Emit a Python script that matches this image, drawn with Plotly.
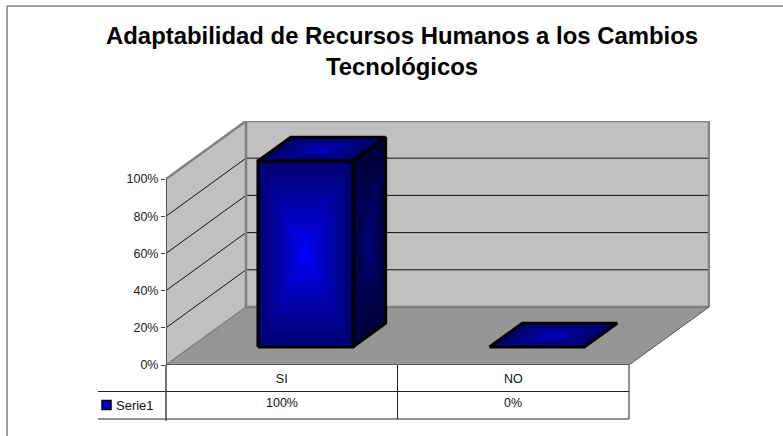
import plotly.graph_objects as go

# ---- data ----
categories = ["SI", "NO"]
series_name = "Serie1"
series_values = [100, 0]
tick_values = [0, 20, 40, 60, 80, 100]
tick_labels = ["0%", "20%", "40%", "60%", "80%", "100%"]
title_lines = ["Adaptabilidad de Recursos Humanos a los Cambios", "Tecnológicos"]

# ---- 3D projection set-up ----
W, H = 783, 436
PX_X, PX_Y = 231.5, 1.86      # pixels per category / per percent
LEFT, BASE, RIGHT, TOP = 166, 365, 710, 121   # plot-area edges in pixels
DEPTH_X = 80 / PX_X           # depth vector in data units
DEPTH_Y = 58 / PX_Y
BAR_L, BAR_R = 0.29, 0.70     # bar span within a category
BAR_F, BAR_B = 0.31, 0.72     # bar span along the depth
YMAX = max(tick_values)
NCAT = len(categories)
FONT = "Liberation Sans"


def proj(c, v, d=0.0):
    return c + d * DEPTH_X, v + d * DEPTH_Y


def paper_x(px):
    return (px - LEFT) / (RIGHT - LEFT)


def paper_y(px):
    return (BASE - px) / (BASE - TOP)


def cat_px(c):
    return LEFT + c * PX_X


def mix(a, b, t):
    return "rgb(%d,%d,%d)" % tuple(round(a[i] + (b[i] - a[i]) * t) for i in range(3))


traces = []


def poly(pts, fill=None, line=None, width=1):
    xs = [p[0] for p in pts]
    ys = [p[1] for p in pts]
    closed = fill is not None
    if closed:
        xs, ys = xs + xs[:1], ys + ys[:1]
    traces.append(go.Scatter(
        x=xs, y=ys, mode="lines", fill="toself" if closed else "none",
        fillcolor=fill, line=dict(color=line or "rgba(0,0,0,0)", width=width if line else 0),
        hoverinfo="skip", showlegend=False, cliponaxis=False))


def shaded(pts, edge, centre, steps=40):
    cx = sum(p[0] for p in pts) / len(pts)
    cy = sum(p[1] for p in pts) / len(pts)
    for i in range(steps):
        t = i / (steps - 1)
        s = 1 - t * 0.99
        poly([(cx + (p[0] - cx) * s, cy + (p[1] - cy) * s) for p in pts],
             fill=mix(edge, centre, t ** 1.2))


# walls and floor
poly([proj(0, 0), proj(0, YMAX), proj(0, YMAX, 1), proj(0, 0, 1)], fill="#C0C0C0")
poly([proj(0, 0, 1), proj(0, YMAX, 1), proj(NCAT, YMAX, 1), proj(NCAT, 0, 1)], fill="#C0C0C0")
poly([proj(0, 0), proj(NCAT, 0), proj(NCAT, 0, 1), proj(0, 0, 1)], fill="#969696")

# grid lines
for v in tick_values[1:-1]:
    poly([proj(0, v), proj(0, v, 1), proj(NCAT, v, 1)], line="#111111", width=1)

# wall borders
poly([proj(0, YMAX), proj(0, YMAX, 1), proj(NCAT, YMAX, 1), proj(NCAT, 0, 1)], line="#808080", width=2.5)
poly([proj(0, YMAX, 1), proj(0, 0, 1), proj(NCAT, 0, 1)], line="#808080", width=2.5)
poly([proj(0, 0), proj(0, 0, 1)], line="#808080", width=1.5)
poly([proj(NCAT, 0), proj(NCAT, 0, 1)], line="#555555", width=1)
poly([proj(0, 0), proj(0, YMAX)], line="#555555", width=2)
poly([proj(0, 0), proj(NCAT, 0)], line="#222222", width=1)

# bars
for i, val in enumerate(series_values):
    l, r = i + BAR_L, i + BAR_R
    front = [proj(l, 0, BAR_F), proj(r, 0, BAR_F), proj(r, val, BAR_F), proj(l, val, BAR_F)]
    side = [proj(r, 0, BAR_F), proj(r, 0, BAR_B), proj(r, val, BAR_B), proj(r, val, BAR_F)]
    top = [proj(l, val, BAR_F), proj(r, val, BAR_F), proj(r, val, BAR_B), proj(l, val, BAR_B)]
    if val > 0:
        shaded(side, (0, 0, 58), (0, 0, 120))
        poly(side + side[:1], line="#000000", width=3)
        shaded(front, (0, 0, 115), (0, 0, 255))
        poly(front + front[:1], line="#000000", width=3)
    shaded(top, (0, 0, 100), (0, 0, 195))
    poly(top + top[:1], line="#000000", width=3)

# ---- data table, frame: page-level shapes and texts ----
TBL_L, ROW1, ROW2, ROW3 = 98, 391.5, 419, 421


def hline(x0, x1, y, color, width):
    return dict(type="line", xref="paper", yref="paper", x0=paper_x(x0), x1=paper_x(x1),
                y0=paper_y(y), y1=paper_y(y), line=dict(color=color, width=width))


def vline(x, y0, y1, color, width):
    return dict(type="line", xref="paper", yref="paper", x0=paper_x(x), x1=paper_x(x),
                y0=paper_y(y0), y1=paper_y(y1), line=dict(color=color, width=width))


shapes = [
    hline(7, W, 6, "#808080", 1.5),
    vline(7, 6, H, "#808080", 1.5),
    hline(TBL_L, cat_px(NCAT), ROW1, "#222222", 1),
    hline(TBL_L, cat_px(NCAT), ROW2, "#222222", 1),
    vline(cat_px(0), BASE, ROW3, "#444444", 1.5),
    vline(cat_px(1), BASE, ROW2, "#222222", 1),
    vline(cat_px(2), BASE, ROW2, "#222222", 1),
    dict(type="rect", xref="paper", yref="paper", x0=paper_x(102), x1=paper_x(111),
         y0=paper_y(400.5), y1=paper_y(409.5), fillcolor="#0000D0",
         line=dict(color="#000000", width=1.5)),
]


def label(px, py, text, anchor="center", size=12.5, color="#111111", bold=False):
    font = dict(family=FONT, size=size, color=color)
    if bold:
        font["weight"] = "bold"
    return dict(xref="paper", yref="paper", x=paper_x(px), y=paper_y(py), text=text,
                xanchor=anchor, yanchor="middle", showarrow=False, font=font)


annotations = [
    label(402, 50.5, "<br>".join(title_lines), size=23.9, color="#000000", bold=True),
    label(113.5, 405.5, series_name, anchor="left", size=13),
]
for i, val in enumerate(series_values):
    annotations.append(label(cat_px(i + 0.5), 403, f"{val}%"))

fig = go.Figure(traces)
fig.update_layout(
    width=W, height=H, autosize=False,
    margin=dict(l=LEFT, r=W - RIGHT, t=TOP, b=H - BASE, pad=0),
    paper_bgcolor="white", plot_bgcolor="white",
    showlegend=False,
    annotations=annotations,
    shapes=shapes,
)
fig.update_xaxes(range=[0, (RIGHT - LEFT) / PX_X], tickvals=[i + 0.5 for i in range(NCAT)],
                 ticktext=categories, showgrid=False, zeroline=False, showline=False,
                 ticks="", ticklabelstandoff=4,
                 tickfont=dict(family=FONT, size=12.5, color="#111111"))
fig.update_yaxes(range=[0, (BASE - TOP) / PX_Y], tickvals=tick_values, ticktext=tick_labels,
                 showgrid=False, zeroline=False, showline=False,
                 ticks="outside", ticklen=4, tickcolor="#444444", tickwidth=1,
                 tickfont=dict(family=FONT, size=12.5, color="#222222"))

fig.write_html("out.html", config=dict(displayModeBar=False),
               post_script="document.body.style.margin='0';")
